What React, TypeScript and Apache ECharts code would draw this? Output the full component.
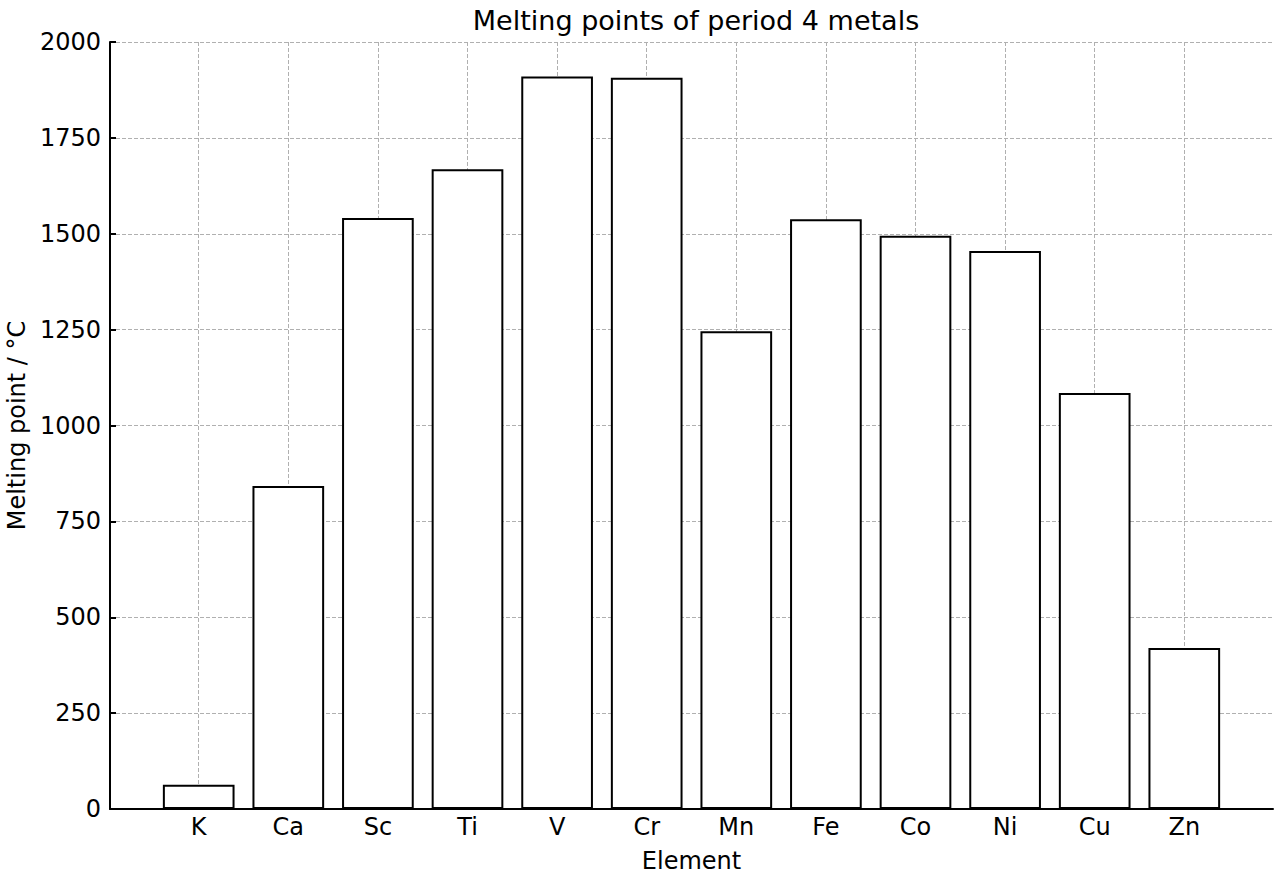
import React, { useEffect, useRef } from "react";
import * as echarts from "echarts";

const elements = ["K", "Ca", "Sc", "Ti", "V", "Cr", "Mn", "Fe", "Co", "Ni", "Cu", "Zn"];
const meltingPoints = [63.5, 842, 1541, 1668, 1910, 1907, 1246, 1538, 1495, 1455, 1085, 420];
const yTicks = [0, 250, 500, 750, 1000, 1250, 1500, 1750, 2000];

const FONT = "DejaVu Sans";

export default function App() {
  const ref = useRef<HTMLDivElement>(null);
  useEffect(() => {
    if (!ref.current) return;
    const chart = echarts.init(ref.current, undefined, { renderer: "svg" });
    const xMin = -0.99;
    const xMax = elements.length - 1 + 0.99;
    const plotW = 1280 - 110 - 7;
    const barW = (plotW / (xMax - xMin)) * 0.8;
    const idx = elements.map((_, i) => i);
    chart.setOption({
      animation: false,
      backgroundColor: "#ffffff",
      textStyle: { fontFamily: FONT },
      title: {
        text: "Melting points of period 4 metals",
        left: 691,
        top: 2,
        textAlign: "center",
        textStyle: { fontFamily: FONT, fontSize: 27, fontWeight: "normal", color: "#000" },
      },
      grid: { left: 110, right: 7, top: 42, bottom: 71, containLabel: false, outerBoundsMode: "none" },
      xAxis: {
        type: "value",
        min: xMin,
        max: xMax,
        name: "Element",
        nameLocation: "middle",
        nameGap: 40,
        nameTextStyle: { fontFamily: FONT, fontSize: 24, color: "#000" },
        axisLine: { show: true, onZero: false, lineStyle: { color: "#000", width: 2 } },
        axisTick: { show: true, inside: true, length: 6, customValues: idx, lineStyle: { color: "#000", width: 2 } },
        axisLabel: {
          customValues: idx,
          formatter: (v: number) => elements[Math.round(v)] ?? "",
          fontFamily: FONT,
          fontSize: 24,
          color: "#000",
          margin: 6,
        },
        splitLine: { show: true, lineStyle: { color: "#b0b0b0", type: [4, 2], width: 1 } },
      },
      yAxis: {
        type: "value",
        min: 0,
        max: 2000,
        interval: 250,
        name: "Melting point / °C",
        nameLocation: "middle",
        nameGap: 79,
        nameTextStyle: { fontFamily: FONT, fontSize: 24, color: "#000" },
        axisLine: { show: true, onZero: false, lineStyle: { color: "#000", width: 2 } },
        axisTick: { show: true, inside: true, length: 6, lineStyle: { color: "#000", width: 2 } },
        axisLabel: {
          fontFamily: FONT,
          fontSize: 24,
          color: "#000",
          margin: 9,
          formatter: (v: number) => (yTicks.includes(v) ? String(v) : ""),
        },
        splitLine: { show: true, lineStyle: { color: "#b0b0b0", type: [4, 2], width: 1 } },
      },
      series: [
        {
          type: "bar",
          barWidth: barW,
          data: meltingPoints.map((v, i) => [i, v]),
          itemStyle: { color: "#ffffff", borderColor: "#000000", borderWidth: 2 },
          silent: true,
        },
      ],
    });
    return () => chart.dispose();
  }, []);
  return <div ref={ref} style={{ width: 1280, height: 880, position: "absolute", left: 0, top: 0 }} />;
}
